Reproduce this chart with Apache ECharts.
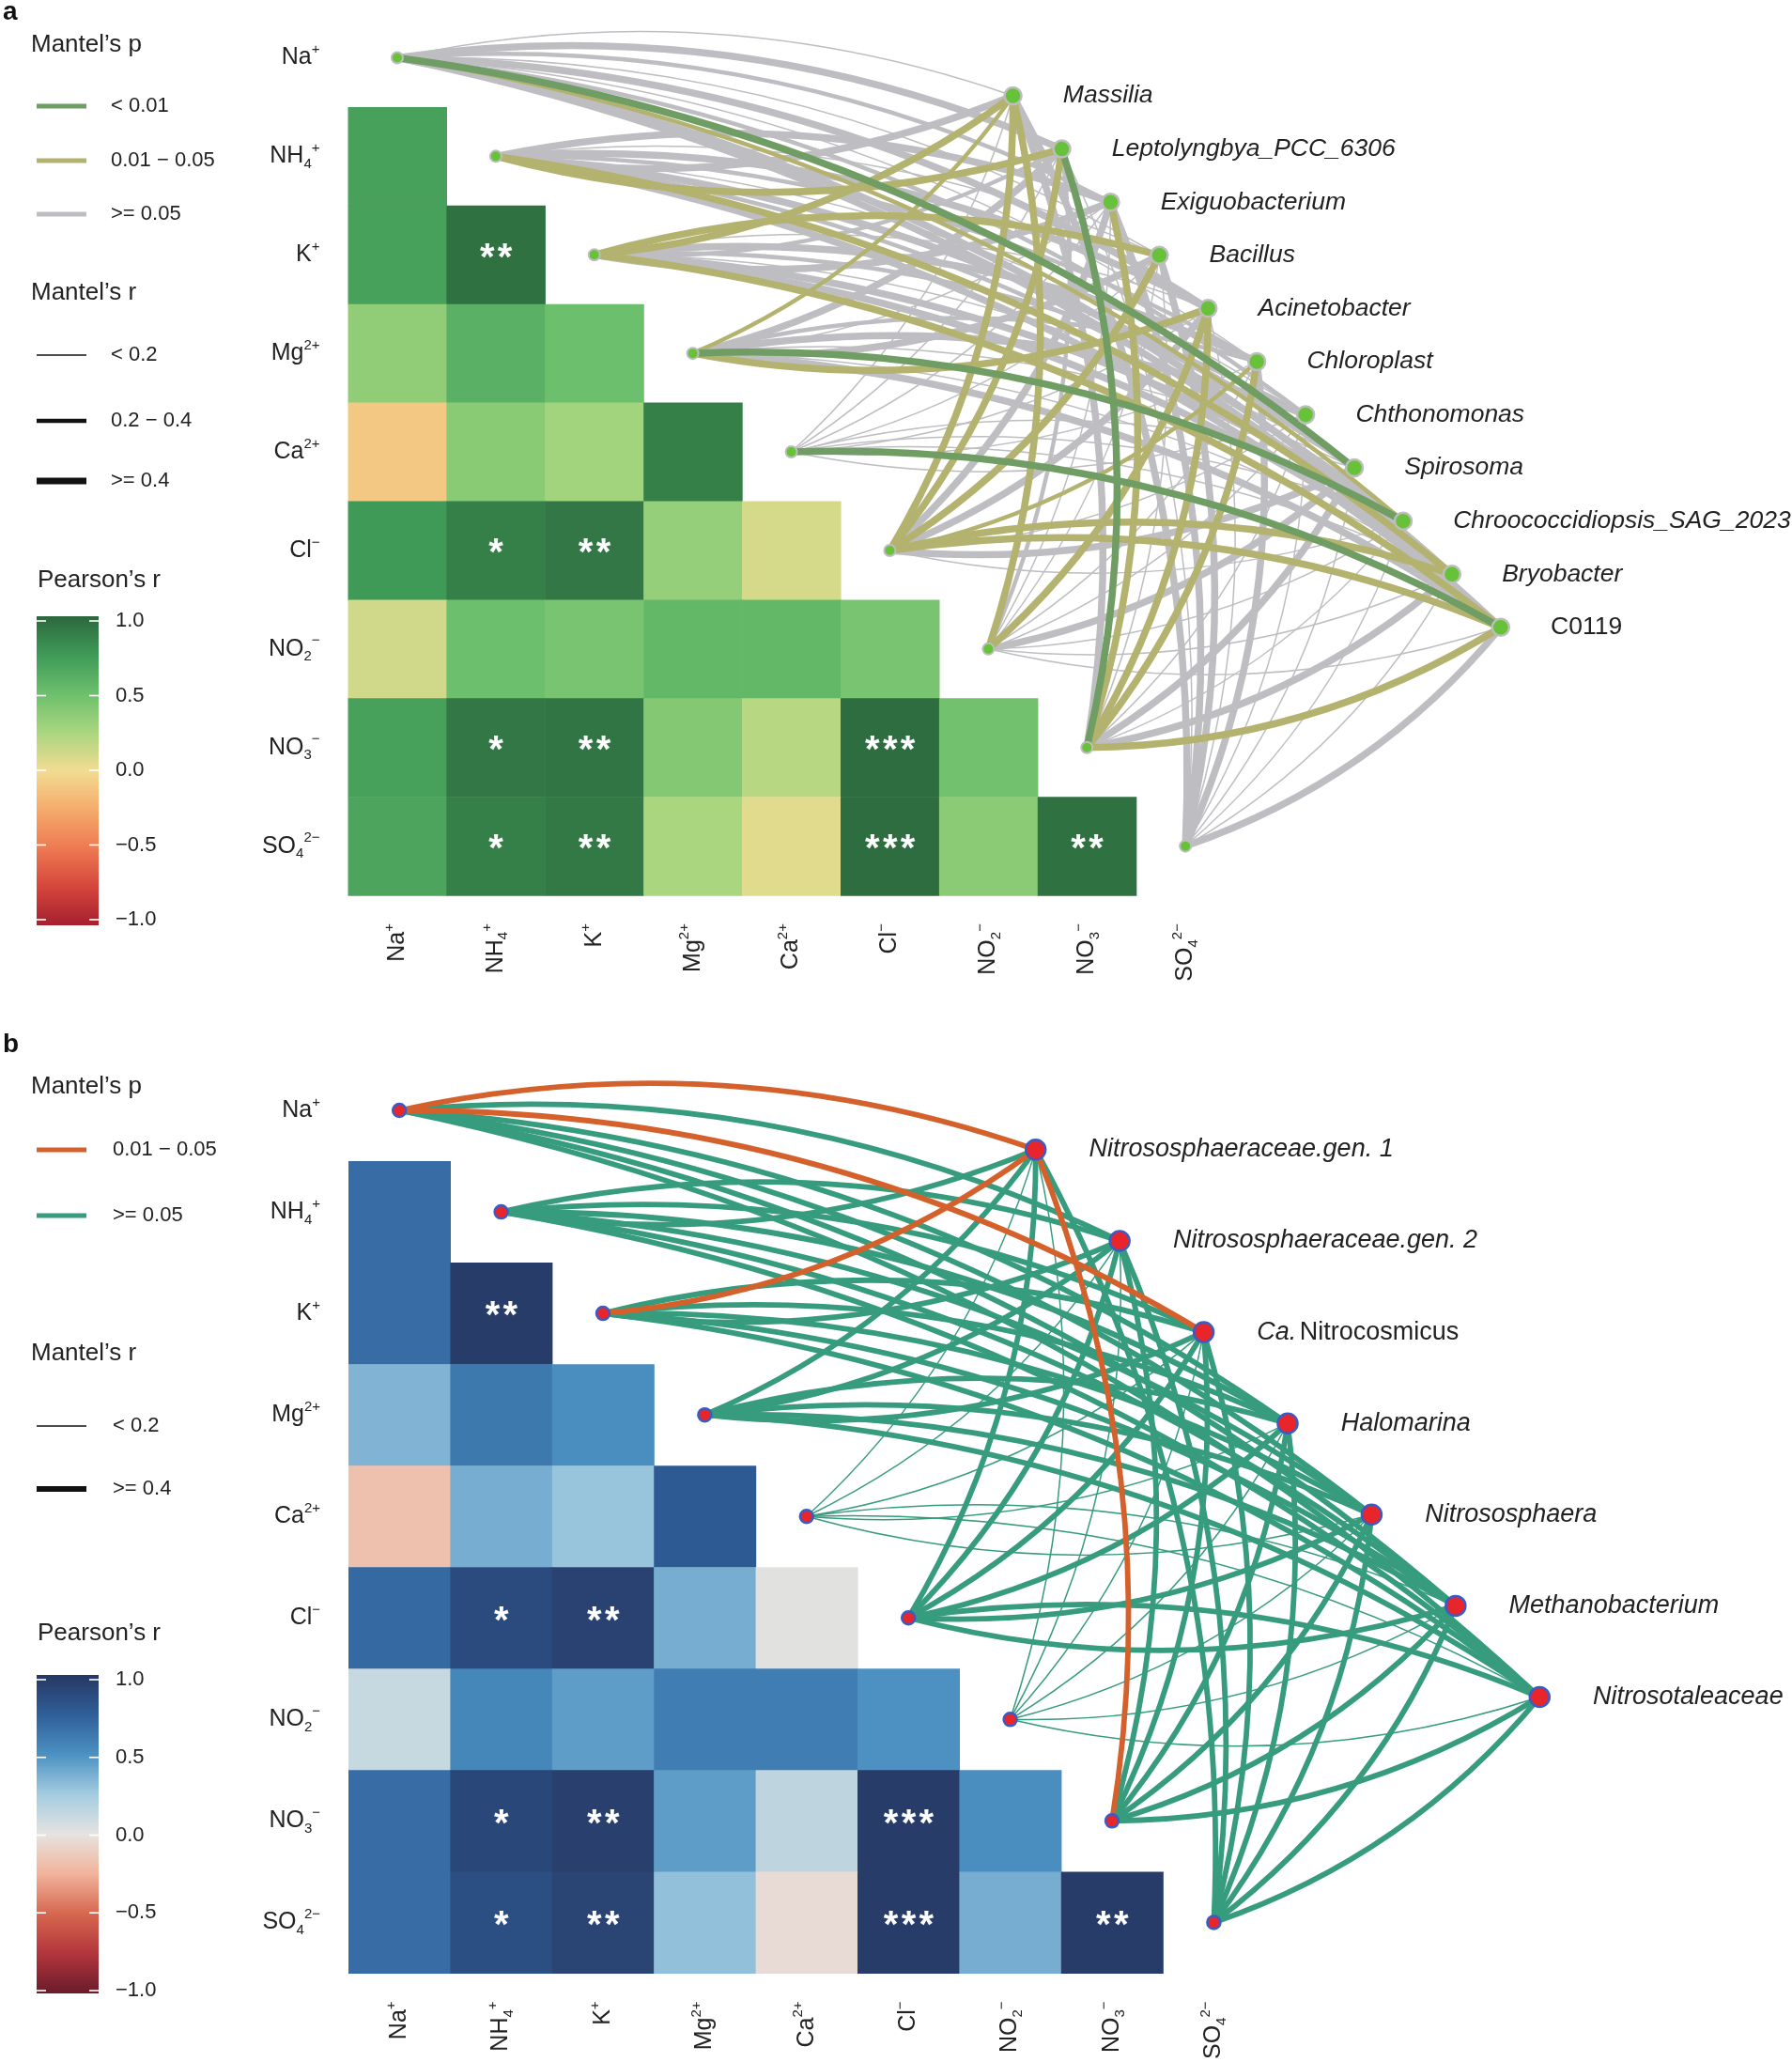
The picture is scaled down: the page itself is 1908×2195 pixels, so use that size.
<!DOCTYPE html>
<html><head><meta charset="utf-8">
<script src="https://cdn.jsdelivr.net/npm/echarts@6/dist/echarts.min.js"></script>
<style>html,body{margin:0;padding:0;background:#fff}#chart{width:1908px;height:2195px}</style>
</head><body><div id="chart"></div>
<script>
// ---------------- DATA ----------------
const ions = ['Na+','NH4+','K+','Mg2+','Ca2+','Cl-','NO2-','NO3-','SO42-'];
const speciesA = ['Massilia','Leptolyngbya_PCC_6306','Exiguobacterium','Bacillus','Acinetobacter','Chloroplast','Chthonomonas','Spirosoma','Chroococcidiopsis_SAG_2023','Bryobacter','C0119'];
const speciesB = ['Nitrososphaeraceae.gen. 1','Nitrososphaeraceae.gen. 2','Ca. Nitrocosmicus','Halomarina','Nitrososphaera','Methanobacterium','Nitrosotaleaceae'];
const nonItalic = ['C0119'];

// Pearson's r (lower triangle, row = ion, col = ion)
const pearsonA = [
  [],
  [0.70],
  [0.70, 0.95],
  [0.35, 0.60, 0.50],
  [-0.10, 0.38, 0.28, 0.88],
  [0.75, 0.88, 0.92, 0.33, 0.10],
  [0.12, 0.50, 0.45, 0.55, 0.55, 0.45],
  [0.70, 0.92, 0.93, 0.40, 0.20, 0.97, 0.48],
  [0.68, 0.88, 0.91, 0.25, 0.06, 0.97, 0.37, 0.95]
];
const pearsonB = [
  [],
  [0.68],
  [0.68, 0.97],
  [0.35, 0.62, 0.52],
  [-0.18, 0.38, 0.28, 0.78],
  [0.70, 0.88, 0.93, 0.38, 0.02],
  [0.12, 0.55, 0.45, 0.60, 0.60, 0.50],
  [0.68, 0.90, 0.95, 0.45, 0.15, 0.97, 0.52],
  [0.68, 0.85, 0.92, 0.30, -0.04, 0.97, 0.38, 0.97]
];
const pearsonStars = [
  [],
  [''],
  ['', '**'],
  ['', '', ''],
  ['', '', '', ''],
  ['', '*', '**', '', ''],
  ['', '', '', '', '', ''],
  ['', '*', '**', '', '', '***', ''],
  ['', '*', '**', '', '', '***', '', '**']
];
const pearsonTicks = [1.0, 0.5, 0.0, -0.5, -1.0];

// Mantel r / p : rows = ions, cols = species
const mantelRA = [
  [0.12,0.45,0.31,0.15,0.43,0.11,0.28,0.52,0.33,0.44,0.47],
  [0.46,0.53,0.44,0.16,0.49,0.27,0.14,0.42,0.30,0.48,0.43],
  [0.51,0.36,0.45,0.47,0.13,0.43,0.34,0.17,0.44,0.46,0.50],
  [0.33,0.44,0.15,0.42,0.48,0.29,0.43,0.12,0.55,0.18,0.45],
  [0.09,0.11,0.07,0.12,0.10,0.08,0.13,0.09,0.11,0.14,0.47],
  [0.49,0.52,0.44,0.46,0.43,0.35,0.16,0.45,0.14,0.47,0.53],
  [0.44,0.26,0.10,0.13,0.42,0.09,0.12,0.43,0.15,0.11,0.17],
  [0.45,0.54,0.48,0.14,0.46,0.44,0.12,0.43,0.16,0.42,0.51],
  [0.43,0.13,0.45,0.44,0.16,0.42,0.11,0.14,0.12,0.09,0.46]
];
const mantelPA = [
  [0.32,0.09,0.15,0.41,0.07,0.55,0.12,0.004,0.032,0.08,0.06],
  [0.07,0.021,0.06,0.38,0.11,0.11,0.44,0.08,0.13,0.027,0.09],
  [0.015,0.12,0.065,0.024,0.36,0.07,0.09,0.29,0.08,0.06,0.019],
  [0.036,0.07,0.31,0.09,0.029,0.14,0.08,0.47,0.006,0.22,0.06],
  [0.52,0.47,0.61,0.44,0.50,0.58,0.39,0.55,0.46,0.35,0.008],
  [0.022,0.017,0.07,0.031,0.08,0.044,0.27,0.06,0.33,0.026,0.013],
  [0.041,0.18,0.49,0.42,0.039,0.57,0.45,0.07,0.36,0.51,0.26],
  [0.06,0.003,0.023,0.39,0.034,0.028,0.48,0.09,0.31,0.07,0.016],
  [0.08,0.37,0.07,0.09,0.29,0.10,0.52,0.43,0.48,0.60,0.06]
];
const mantelRB = [
  [0.45,0.44,0.46,0.43,0.42,0.44,0.41],
  [0.44,0.47,0.45,0.42,0.43,0.46,0.44],
  [0.46,0.43,0.44,0.45,0.42,0.44,0.43],
  [0.43,0.45,0.42,0.44,0.46,0.41,0.43],
  [0.12,0.10,0.14,0.09,0.11,0.13,0.08],
  [0.44,0.46,0.43,0.45,0.42,0.47,0.44],
  [0.11,0.09,0.13,0.12,0.10,0.14,0.08],
  [0.42,0.44,0.46,0.43,0.45,0.41,0.47],
  [0.43,0.45,0.44,0.46,0.42,0.43,0.45]
];
const mantelPB = [
  [0.030,0.07,0.020,0.09,0.12,0.08,0.15],
  [0.11,0.08,0.13,0.20,0.16,0.09,0.18],
  [0.040,0.06,0.10,0.12,0.14,0.11,0.17],
  [0.21,0.15,0.24,0.18,0.12,0.27,0.19],
  [0.45,0.52,0.38,0.61,0.49,0.41,0.57],
  [0.09,0.07,0.11,0.13,0.10,0.08,0.12],
  [0.50,0.44,0.36,0.55,0.47,0.39,0.62],
  [0.045,0.08,0.14,0.10,0.07,0.16,0.09],
  [0.12,0.10,0.15,0.09,0.13,0.17,0.11]
];

// ---------------- STYLE / LAYOUT ----------------
const FONT = '"Liberation Sans", Arial, Helvetica, sans-serif';
const TXT = '#222';
const colorsA = ['#a51f2e','#d5463c','#ee7a52','#f5ab6c','#f2dc92','#a9d67f','#6cbf6c','#3f9a57','#2c673d'];
const colorsB = ['#6a1b2b','#b2353c','#d6674f','#f1b39b','#e6e3e0','#a4cce0','#4c91c2','#2f5f99','#273763'];
const palA = ['#6f9d63','#b3b26e','#bebec2'];
const palB = ['#2e8b57','#d4612c','#369c7d'];
const widthA = [1.5, 4.5, 7.5];
const widthB = [1.5, 3.5, 5.8];
const CURVE = 0.14;
const LAY = { s0: [6.25, 0.387], s1: [11.2, 5.78] };
const PA = { left: 370.5, top: 9, unit: 104.9, xMax: 13.5 };
const PB = { left: 371, top: 1128, unit: 108.4, xMax: 13.5 };

const ionRich = {
  'Na+':'Na{sup|+}', 'NH4+':'NH{sub|4}{sup|+}', 'K+':'K{sup|+}', 'Mg2+':'Mg{sup|2+}',
  'Ca2+':'Ca{sup|2+}', 'Cl-':'Cl{sup|−}', 'NO2-':'NO{sub|2}{sup|−}', 'NO3-':'NO{sub|3}{sup|−}',
  'SO42-':'SO{sub|4}{sup|2−}'
};
const richIon = {
  sup: { fontSize: 15, verticalAlign: 'top', lineHeight: 15, fontFamily: FONT, color: TXT },
  sub: { fontSize: 15, verticalAlign: 'bottom', lineHeight: 15, fontFamily: FONT, color: TXT }
};

function classP(p) { return p < 0.01 ? 0 : (p < 0.05 ? 1 : 2); }
function classR(r) { return r < 0.2 ? 0 : (r < 0.4 ? 1 : 2); }
function speciesXY(i, n) {
  const t = n > 1 ? i / (n - 1) : 0;
  return [LAY.s0[0] + (LAY.s1[0] - LAY.s0[0]) * t, LAY.s0[1] + (LAY.s1[1] - LAY.s0[1]) * t];
}
function buildLinks(rMat, pMat, species, pal, widths) {
  const items = [];
  rMat.forEach((row, v) => row.forEach((r, s) => {
    const pc = classP(pMat[v][s]);
    const from = [v, v], to = speciesXY(s, species.length);
    items.push({ pc, coords: [from, to],
      lineStyle: { color: pal[pc], width: widths[classR(r)], curveness: to[1] > from[1] ? CURVE : -CURVE, opacity: 1 } });
  }));
  items.sort((a, b) => b.pc - a.pc);
  return items.map(d => ({ coords: d.coords, lineStyle: d.lineStyle }));
}
function heatData(mat) {
  const d = [];
  mat.forEach((row, r) => row.forEach((v, c) => d.push([c, r, v])));
  return d;
}
function heatSeries(mat, axisIdx) {
  return {
    type: 'custom', xAxisIndex: axisIdx, yAxisIndex: axisIdx, z: 1, silent: true,
    data: heatData(mat), encode: { x: 0, y: 1 },
    renderItem: function (params, api) {
      const c = api.value(0), r = api.value(1);
      const p0 = api.coord([c - 0.5, r - 0.5]), p1 = api.coord([c + 0.5, r + 0.5]);
      const star = (pearsonStars[r] && pearsonStars[r][c]) || '';
      return {
        type: 'rect',
        shape: { x: Math.min(p0[0], p1[0]), y: Math.min(p0[1], p1[1]), width: Math.abs(p1[0] - p0[0]) + 0.6, height: Math.abs(p1[1] - p0[1]) + 0.6 },
        style: { fill: api.visual('color') },
        textContent: { style: { text: star.split('').join('\u200A'), fill: '#ffffff', fontSize: 40, fontWeight: 'bold', fontFamily: FONT } },
        textConfig: { position: 'inside', offset: [0, 4] }
      };
    }
  };
}
function speciesLabel(name) {
  if (name.indexOf('Ca. ') === 0) return '{i|Ca.} {n|' + name.slice(4) + '}';
  if (nonItalic.indexOf(name) >= 0) return '{n|' + name + '}';
  return '{i|' + name + '}';
}
function richSp(size) {
  return {
    i: { fontStyle: 'italic', fontSize: size, fontFamily: FONT, color: TXT },
    n: { fontSize: size, fontFamily: FONT, color: TXT }
  };
}
function nodeSeries(axisIdx, pts, size, fill, border, bw, labelSize, dist) {
  return {
    type: 'scatter', xAxisIndex: axisIdx, yAxisIndex: axisIdx, z: 5, silent: true,
    symbolSize: size, itemStyle: { color: fill, borderColor: border, borderWidth: bw, opacity: 1 },
    data: pts,
    label: labelSize ? { show: true, position: 'right', distance: dist, formatter: p => speciesLabel(p.name), rich: richSp(labelSize) } : { show: false }
  };
}
function axesFor(P, gi) {
  const nx = Math.round(P.xMax + 0.5);
  const xCats = ions.concat(new Array(nx - ions.length).fill(''));
  const lab = { fontSize: 25, fontFamily: FONT, color: TXT, lineHeight: 32, formatter: v => ionRich[v] || '', rich: richIon, interval: 0 };
  return {
    x: [
      { gridIndex: gi, type: 'value', min: -0.5, max: P.xMax, show: false },
      { gridIndex: gi, type: 'category', data: xCats, position: 'bottom', axisLine: { show: false }, axisTick: { show: false }, splitLine: { show: false },
        axisLabel: Object.assign({}, lab, { rotate: 90, margin: 30 }) }
    ],
    y: [
      { gridIndex: gi, type: 'value', min: -0.5, max: 8.5, inverse: true, show: false },
      { gridIndex: gi, type: 'category', data: ions, inverse: true, position: 'left', axisLine: { show: false }, axisTick: { show: false }, splitLine: { show: false },
        axisLabel: Object.assign({}, lab, { margin: 30 }) }
    ]
  };
}
const axA = axesFor(PA, 0), axB = axesFor(PB, 1);

// ---------------- LEGENDS (graphic) ----------------
const G = [];
function txt(x, y, s, size, opts) {
  G.push({ type: 'text', x: x, y: y, silent: true,
    style: Object.assign({ text: s, fill: TXT, fontSize: size, fontFamily: FONT, textAlign: 'left', textVerticalAlign: 'middle', verticalAlign: 'middle' }, opts || {}) });
}
function seg(x1, y, x2, color, w) {
  G.push({ type: 'line', silent: true, shape: { x1: x1, y1: y, x2: x2, y2: y }, style: { stroke: color, lineWidth: w } });
}
function colorbar(x, y, w, h, colors, tickTop, tickStep) {
  const stops = colors.slice().reverse().map((c, i, a) => ({ offset: i / (a.length - 1), color: c }));
  G.push({ type: 'rect', silent: true, shape: { x: x, y: y, width: w, height: h },
    style: { fill: new echarts.graphic.LinearGradient(0, 0, 0, 1, stops) } });
  pearsonTicks.forEach((t, k) => {
    const ty = tickTop + tickStep * k;
    seg(x, ty, x + 10, '#ffffff', 1.6);
    seg(x + w - 10, ty, x + w, '#ffffff', 1.6);
    txt(x + w + 18, ty, t.toFixed(1).replace('-', '−'), 22);
  });
}
// panel a
txt(3, 13, 'a', 28, { fontWeight: 'bold', fill: '#111' });
txt(33, 48, 'Mantel’s p', 26);
[['< 0.01', 113], ['0.01 − 0.05', 171], ['>= 0.05', 228]].forEach((d, i) => { seg(39, d[1], 92, palA[i], 5); txt(118, d[1], d[0], 22); });
txt(33, 312, 'Mantel’s r', 26);
[['< 0.2', 378], ['0.2 − 0.4', 448], ['>= 0.4', 512]].forEach((d, i) => { seg(39, d[1], 92, '#111', [1.5, 4.5, 7][i]); txt(118, d[1], d[0], 22); });
txt(40, 618, 'Pearson’s r', 26);
colorbar(39, 656, 66, 329, colorsA, 661, 79.5);
// panel b
txt(3, 1112, 'b', 28, { fontWeight: 'bold', fill: '#111' });
txt(33, 1157, 'Mantel’s p', 26);
[['0.01 − 0.05', 1224, 1], ['>= 0.05', 1294, 2]].forEach(d => { seg(39, d[1], 92, palB[d[2]], 5); txt(120, d[1], d[0], 22); });
txt(33, 1441, 'Mantel’s r', 26);
[['< 0.2', 1518, 0], ['>= 0.4', 1585, 2]].forEach(d => { seg(39, d[1], 92, '#111', d[2] === 0 ? 1.5 : 6); txt(120, d[1], d[0], 22); });
txt(40, 1739, 'Pearson’s r', 26);
colorbar(39, 1783, 66, 339, colorsB, 1788, 82.75);

// ---------------- OPTION ----------------
const varPts = ions.map((n, i) => ({ name: n, value: [i, i] }));
const spPtsA = speciesA.map((n, i) => ({ name: n, value: speciesXY(i, speciesA.length) }));
const spPtsB = speciesB.map((n, i) => ({ name: n, value: speciesXY(i, speciesB.length) }));

const option = {
  animation: false,
  backgroundColor: '#ffffff',
  textStyle: { fontFamily: FONT },
  grid: [
    { left: PA.left, top: PA.top, width: PA.unit * (PA.xMax + 0.5), height: PA.unit * 9, containLabel: false },
    { left: PB.left, top: PB.top, width: PB.unit * (PB.xMax + 0.5), height: PB.unit * 9, containLabel: false }
  ],
  xAxis: axA.x.concat(axB.x),
  yAxis: axA.y.concat(axB.y),
  visualMap: [
    { type: 'continuous', show: false, min: -1, max: 1, dimension: 2, seriesIndex: 0, inRange: { color: colorsA } },
    { type: 'continuous', show: false, min: -1, max: 1, dimension: 2, seriesIndex: 4, inRange: { color: colorsB } }
  ],
  series: [
    heatSeries(pearsonA, 0),
    { type: 'lines', coordinateSystem: 'cartesian2d', xAxisIndex: 0, yAxisIndex: 0, z: 3, silent: true,
      lineStyle: { opacity: 1 }, data: buildLinks(mantelRA, mantelPA, speciesA, palA, widthA) },
    nodeSeries(0, varPts, 12, '#67c23a', '#bdbdbd', 2, 0),
    nodeSeries(0, spPtsA, 18, '#67c23a', '#bdbdbd', 2.5, 26.5, 43),
    heatSeries(pearsonB, 2),
    { type: 'lines', coordinateSystem: 'cartesian2d', xAxisIndex: 2, yAxisIndex: 2, z: 3, silent: true,
      lineStyle: { opacity: 1 }, data: buildLinks(mantelRB, mantelPB, speciesB, palB, widthB) },
    nodeSeries(2, varPts, 14, '#e8252b', '#3b5bc4', 2.5, 0),
    nodeSeries(2, spPtsB, 21, '#e8252b', '#3b5bc4', 2.5, 27, 45)
  ],
  graphic: { elements: G }
};
const chart = echarts.init(document.getElementById('chart'), null, { renderer: 'canvas', width: 1908, height: 2195 });
chart.setOption(option);
</script>
</body></html>
